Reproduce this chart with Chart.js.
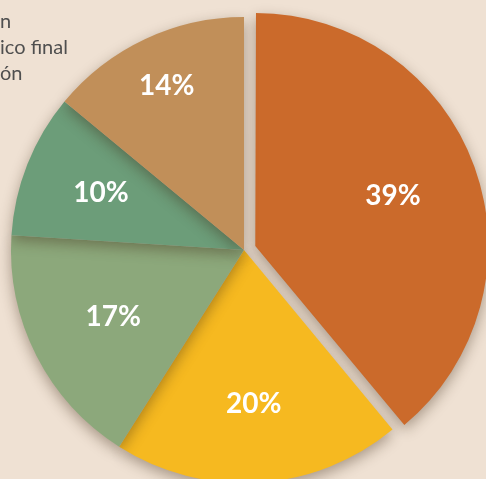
<!DOCTYPE html>
<html>
<head>
<meta charset="utf-8">
<script src="https://cdn.jsdelivr.net/npm/chart.js@4"></script>
<style>
    html, body { margin: 0; padding: 0; background: #efe1d3; overflow: hidden; }
    canvas { display: block; }
</style>
</head>
<body>
<canvas id="pieChart" width="486" height="479"></canvas>
<script>
const categories = ['A', 'B', 'C', 'D', 'E'];
const shares = [39, 20, 17, 10, 14];
const pctLabels = ['39%', '20%', '17%', '10%', '14%'];
const titleLines = ['n', 'ico final', 'ón'];

const colours = ['#cb6a2b', '#f6b920', '#8ca87b', '#6c9d79', '#c18f59'];
// how far out (fraction of radius) each label sits
const labelRadius = [0.68, 0.66, 0.63, 0.66, 0.78];

const sliceShadow = {
    id: 'sliceShadow',
    beforeDatasetsDraw(chart) {
        const ctx = chart.ctx;
        // v4 also grows an offset slice's radius, keep it the same size as the rest
        chart.getDatasetMeta(0).data.forEach(arc => {
            const off = (arc.options.offset || 0) / 4;
            if (off && !arc._shrunk) {
                const fix = 1 - Math.sin(Math.min(Math.PI, arc.circumference));
                arc.outerRadius -= off * fix;
                arc._shrunk = true;
            }
        });
        ctx.save();
        ctx.shadowColor = 'rgba(60, 40, 20, 0.4)';
        ctx.shadowBlur = 14;
        ctx.shadowOffsetX = 0;
        ctx.shadowOffsetY = 5;
    },
    afterDatasetsDraw(chart) {
        chart.ctx.restore();
    }
};

const sliceLabels = {
    id: 'sliceLabels',
    afterDraw(chart) {
        const ctx = chart.ctx;
        const meta = chart.getDatasetMeta(0);
        const cx = meta.data[1].x, cy = meta.data[1].y;
        const radius = meta.data[1].outerRadius;
        ctx.save();
        ctx.fillStyle = '#ffffff';
        ctx.font = 'bold 28px Lato';
        ctx.textAlign = 'center';
        ctx.textBaseline = 'middle';
        meta.data.forEach((arc, i) => {
            const mid = (arc.startAngle + arc.endAngle) / 2;
            const r = radius * labelRadius[i];
            ctx.fillText(pctLabels[i], cx + Math.cos(mid) * r, cy + Math.sin(mid) * r);
        });

        // leftover of the title, cut by the frame
        ctx.fillStyle = '#4f4f4f';
        ctx.font = '20px Lato';
        ctx.textAlign = 'left';
        ctx.textBaseline = 'alphabetic';
        titleLines.forEach((line, i) => {
            ctx.fillText(line, 0, 28 + i * 26);
        });
        ctx.restore();
    }
};

new Chart(document.getElementById('pieChart'), {
    type: 'pie',
    data: {
        labels: categories,
        datasets: [{
            data: shares,
            backgroundColor: colours,
            borderWidth: 0,
            offset: [48, 0, 0, 0, 0],  // v4 moves the slice by offset / 4
            clip: false
        }]
    },
    options: {
        responsive: false,
        animation: false,
        radius: 233,
        layout: { padding: { top: 21, left: 2 } },
        plugins: {
            legend: { display: false },
            tooltip: { enabled: false }
        }
    },
    plugins: [sliceShadow, sliceLabels]
});
</script>
</body>
</html>
